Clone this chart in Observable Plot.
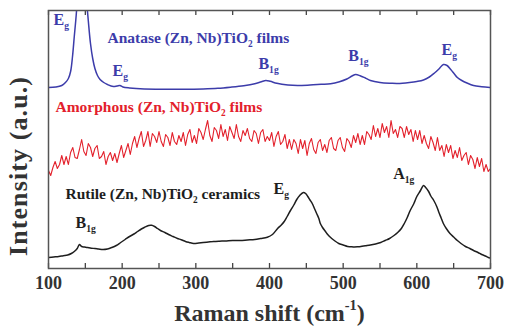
<!DOCTYPE html>
<html><head><meta charset="utf-8">
<script src="https://cdn.jsdelivr.net/npm/d3@7"></script>
<script src="https://cdn.jsdelivr.net/npm/@observablehq/plot@0.6"></script>
<style>body{margin:0;background:#fff} svg{display:block} svg text{font-family:"Liberation Serif","Times New Roman",serif !important;}</style>
</head><body><div id="chart"></div>
<script>
// ---- data (Raman shift in cm^-1, intensity in arbitrary units) ----
const anataseShift = [100,110,118,123,127,130,132.6,135,137,138.5,141,145,149,152,154,157,160,163,166.5,170,175,180,188,193,197,201,210,230,250,280,310,330,347,365,380,389,395,401,410,425,438,455,470,483,495,505,512,517,523,530,537,550,565,574,590,600,609,617,624,630,636,641,646,651,655,661,668,677,688,700];
const anataseI     = [181,181.5,183,186,190,197,212,232,248,262,290,310,292,265,248,225,210,200,193,189,186,184,182,182.5,183,181.5,180.5,179.5,179.3,179.3,179.6,180.2,181.3,182.8,184.8,186.8,188,187.2,185.2,183.5,183,183.5,184.2,184.8,186.8,189.5,192.5,194,192.8,190.5,188,186,185.2,185,186,187,188.5,191.5,195.5,199.5,204,203,199,194.5,191,188,185.5,183,181.8,181];

const amorphStart = 100, amorphStep = 3;
const amorphI = [
 98,93,101,107,100,104,113,104,112,104,
 116,121,111,110,119,129,117,113,125,121,
 112,120,123,110,112,117,104,112,116,108,
 115,106,115,123,111,118,125,114,125,132,
 121,130,137,122,128,137,122,135,132,126,
 137,127,122,134,131,123,136,127,124,133,
 127,136,123,134,139,126,133,125,140,136,
 129,139,148,133,127,141,138,130,144,132,
 139,128,142,136,130,144,132,127,138,133,
 140,130,127,138,135,125,136,139,127,132,
 128,136,122,132,137,124,127,134,120,129,
 119,129,125,115,129,120,128,113,125,130,
 119,115,126,129,118,124,116,128,131,120,
 118,128,131,121,117,130,127,121,133,126,
 135,124,133,124,137,134,129,143,132,140,
 131,145,136,142,131,148,135,139,131,142,
 140,131,142,134,139,127,138,129,138,125,
 133,125,120,132,126,118,131,118,123,112,
 124,116,123,110,118,111,121,108,113,116,
 104,113,109,100,111,102,110,97,104,97,
 100];

const rutileShift = [100,107,114,120,126,131,135,139,142,145,149,153,158,163,168,174,180,186,192,198,204,210,216,221,226,230,236,240,244,248,252,258,263,269,275,280,286,291,297,304,310,317,324,332,340,350,360,370,380,388,397,404,411,416,420,424,428.5,433,437,441,446,449,452,455,458,461,464,467,469,472,476,479,483,488,494,500,506,510,515,520,524,530,537,544,551,557,563,569,574,579,583,587,591,596,600,605,609,612,616,619,623,627,630,633,636,640,645,650,655,660,666,672,677,683,688,693,697,700];
const rutileI     = [11,11.5,12,12.8,13.5,15,17,20,24,22,21.5,21,20.3,20,19.5,19,19.5,21,23,26,29,32,34.5,37,39.5,41,43,43.2,42,40,38,36,34,32,30,28.8,27,26,25,25.5,26,26.5,27,27.3,27.5,28,28,28.5,29,30,31.3,34,40,43.5,47,52,58,63.5,69,73,76,75,72,68.5,65,60,55,50,45,41,37,34,31,28,25,23.5,22,21.8,21.5,21.7,22,22.7,23.5,24.6,26,28,30,33,36,40,45,51,58,65,72,78,83,81,77,72.5,68,62,56,50.5,45,40,35,31.5,28,25,22,20,18,16,14,12.5,11,10.5];

const xTickLabels = [100,200,300,400,500,600,700];
const xTickMarks  = [100,150,200,250,300,350,400,450,500,550,600,650,700];
const xTitle = "Raman shift (cm^{-1})";
const yTitle = "Intensity (a.u.)";

const labelText  = ["E_{g}","Anatase (Zn, Nb)TiO_{2} films","E_{g}","B_{1g}","B_{1g}","E_{g}",
                    "Amorphous (Zn, Nb)TiO_{2} films",
                    "Rutile (Zn, Nb)TiO_{2} ceramics","B_{1g}","E_{g}","A_{1g}"];
const labelX     = [106.8,180,186.9,385,507,633.5, 109.5, 123,136.7,405.4,568];
const labelY     = [244,226,193,200,208,214, 157, 70,41,75,90];
const labelGroup = ["anatase","anatase","anatase","anatase","anatase","anatase","amorphous","rutile","rutile","rutile","rutile"];
const labelKind  = ["peak","name","peak","peak","peak","peak","name","name","peak","peak","peak"];

// ---- styling ----
const FONT = "Liberation Serif";
const colors = {anatase: "#3c3caa", amorphous: "#e3202b", rutile: "#1e1e1e"};

const anatase = anataseShift.map((x, i) => ({x, y: anataseI[i]}));
const amorph  = amorphI.map((y, i) => ({x: amorphStart + i * amorphStep, y}));
const rutile  = rutileShift.map((x, i) => ({x, y: rutileI[i]}));
const labels  = labelText.map((t, i) => ({t, x: labelX[i], y: labelY[i], g: labelGroup[i], k: labelKind[i]}));

const W = 505, H = 328, mT = 10, mB = 60, mL = 48, mR = 15;
const frameH = H - mT - mB;
const tickLen = 5;

const chart = Plot.plot({
  width: W, height: H,
  marginTop: mT, marginBottom: mB, marginLeft: mL, marginRight: mR,
  style: {fontFamily: FONT, background: "#fff", color: "#222"},
  x: {domain: [100, 700], axis: null},
  y: {domain: [0, 258], axis: null},
  marks: [
    Plot.line(amorph, {x: "x", y: "y", stroke: colors.amorphous, strokeWidth: 1.1, clip: true}),
    Plot.line(rutile, {x: "x", y: "y", stroke: colors.rutile, strokeWidth: 1.5, curve: "catmull-rom", clip: true}),
    Plot.line(anatase, {x: "x", y: "y", stroke: colors.anatase, strokeWidth: 1.5, curve: "catmull-rom", clip: true}),
    Plot.ruleX(xTickMarks, {stroke: "#444", strokeWidth: 1.3, insetTop: frameH - tickLen}),
    Plot.ruleX(xTickMarks, {stroke: "#444", strokeWidth: 1.3, insetBottom: frameH - tickLen}),
    Plot.frame({stroke: "#555", strokeWidth: 1.5}),
    Plot.axisX({ticks: xTickLabels, tickSize: 0, tickPadding: 8, label: null, fontSize: 18, fontWeight: "bold", fontFamily: FONT, tickFormat: d => String(d), fill: "#333"}),
    Plot.text(labels.filter(d => d.k === "name"), {x: "x", y: "y", text: "t", fill: d => colors[d.g], textAnchor: "start", lineAnchor: "bottom", fontSize: 15.5, fontWeight: "bold", fontFamily: FONT}),
    Plot.text(labels.filter(d => d.k === "peak"), {x: "x", y: "y", text: "t", fill: d => colors[d.g], textAnchor: "start", lineAnchor: "bottom", fontSize: 16, fontWeight: "bold", fontFamily: FONT}),
    Plot.text([xTitle], {frameAnchor: "bottom", lineAnchor: "bottom", dy: 52, fontSize: 24, fontWeight: "bold", fontFamily: FONT, fill: "#333"})
  ]
});

document.getElementById("chart").appendChild(chart);

// rotated y-axis title, placed beside the frame
d3.select(chart).append("text")
  .attr("transform", "translate(27,166) rotate(-90)")
  .attr("text-anchor", "middle")
  .attr("font-size", 26)
  .attr("font-weight", "bold")
  .attr("letter-spacing", 1.1)
  .attr("fill", "#333")
  .text(yTitle);

// turn _{..} and ^{..} markup into real subscript / superscript tspans
function richify(svg) {
  svg.querySelectorAll("text").forEach(el => {
    const s = el.textContent;
    if (!/[_^]\{/.test(s)) return;
    const fs = parseFloat(getComputedStyle(el).fontSize) || 16;
    el.textContent = "";
    const re = /([_^])\{([^}]*)\}/g;
    let last = 0, m, shift = 0;
    const add = (txt, kind) => {
      if (!txt) return;
      const t = document.createElementNS("http://www.w3.org/2000/svg", "tspan");
      t.textContent = txt;
      const target = kind === "_" ? 0.3 * fs : kind === "^" ? -0.42 * fs : 0;
      const d = target - shift;
      if (d) t.setAttribute("dy", d);
      shift = target;
      if (kind) t.setAttribute("font-size", 0.6 * fs);
      el.appendChild(t);
    };
    while ((m = re.exec(s))) { add(s.slice(last, m.index), null); add(m[2], m[1]); last = re.lastIndex; }
    add(s.slice(last), null);
  });
}
richify(chart);
</script></body></html>
